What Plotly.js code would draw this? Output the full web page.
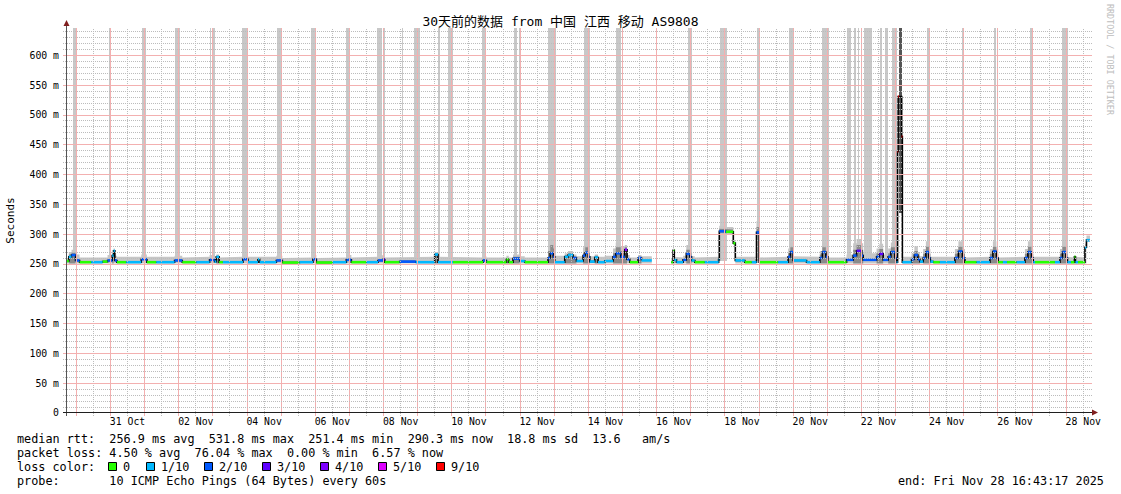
<!DOCTYPE html>
<html><head><meta charset="utf-8">
<script src="https://cdn.plot.ly/plotly-3.0.1.min.js"></script>
<style>html,body{margin:0;padding:0;background:#fff}#chart{width:1121px;height:494px}</style>
</head><body><div id="chart"></div>
<script>
// ---- data (median RTT in ms, loss out of 10 pings) ----
const sampleTime = [
'2025-10-29 16:43','2025-10-29 18:43','2025-10-29 20:37','2025-10-29 23:26','2025-10-30 02:15','2025-10-30 10:29','2025-10-30 18:26','2025-10-30 21:57',
'2025-10-31 01:15','2025-10-31 02:10','2025-10-31 03:05','2025-10-31 04:29','2025-10-31 11:06','2025-10-31 21:39','2025-11-01 01:35','2025-11-01 08:12',
'2025-11-01 21:04','2025-11-02 02:29','2025-11-02 12:20','2025-11-02 21:41','2025-11-03 01:13','2025-11-03 02:24','2025-11-03 04:23','2025-11-03 07:03',
'2025-11-03 21:07','2025-11-04 00:38','2025-11-04 07:40','2025-11-04 08:52','2025-11-04 20:37','2025-11-05 00:50','2025-11-05 13:00','2025-11-05 22:21',
'2025-11-06 00:45','2025-11-06 12:25','2025-11-06 21:51','2025-11-07 01:22','2025-11-07 11:55','2025-11-07 20:05','2025-11-07 23:44','2025-11-08 00:47',
'2025-11-08 11:20','2025-11-08 22:36','2025-11-09 11:58','2025-11-09 14:17','2025-11-10 00:50','2025-11-10 21:56','2025-11-11 00:19','2025-11-11 14:23',
'2025-11-11 16:00','2025-11-11 19:02','2025-11-11 23:44','2025-11-12 03:16','2025-11-12 19:39','2025-11-12 21:12','2025-11-12 23:19','2025-11-13 00:22',
'2025-11-13 07:24','2025-11-13 09:43','2025-11-13 13:14','2025-11-13 15:38','2025-11-13 20:17','2025-11-13 21:49','2025-11-13 23:56','2025-11-14 00:59',
'2025-11-14 04:30','2025-11-14 06:49','2025-11-14 11:32','2025-11-14 17:22','2025-11-14 19:16','2025-11-14 22:47','2025-11-15 01:36','2025-11-15 03:13',
'2025-11-15 05:07','2025-11-15 10:58','2025-11-15 13:21','2025-11-15 20:36','2025-11-16 10:19','2025-11-16 11:35','2025-11-16 12:25','2025-11-16 13:58',
'2025-11-16 18:37','2025-11-16 20:52','2025-11-16 23:19','2025-11-17 00:31','2025-11-17 02:50','2025-11-17 09:52','2025-11-17 19:35','2025-11-17 20:04',
'2025-11-18 00:38','2025-11-18 05:55','2025-11-18 07:20','2025-11-18 14:00','2025-11-18 18:56','2025-11-18 22:14','2025-11-19 00:04','2025-11-19 13:26',
'2025-11-19 20:28','2025-11-19 22:01','2025-11-20 00:00','2025-11-20 09:25','2025-11-20 18:46','2025-11-20 20:32','2025-11-20 22:59','2025-11-21 00:24',
'2025-11-21 13:33','2025-11-21 18:12','2025-11-21 20:35','2025-11-22 00:07','2025-11-22 01:14','2025-11-22 10:39','2025-11-22 12:37','2025-11-22 15:17',
'2025-11-22 18:49','2025-11-22 20:43','2025-11-22 23:31','2025-11-23 00:43','2025-11-23 01:25','2025-11-23 01:50','2025-11-23 02:20','2025-11-23 04:18',
'2025-11-23 04:47','2025-11-23 11:16','2025-11-23 13:14','2025-11-23 15:42','2025-11-23 17:07','2025-11-23 19:26','2025-11-23 21:20','2025-11-23 23:26',
'2025-11-24 00:30','2025-11-24 02:28','2025-11-24 07:11','2025-11-24 17:44','2025-11-24 20:11','2025-11-24 23:00','2025-11-25 00:46','2025-11-25 08:59',
'2025-11-25 18:20','2025-11-25 20:27','2025-11-25 22:55','2025-11-26 00:11','2025-11-26 03:29','2025-11-26 06:18','2025-11-26 13:07','2025-11-26 18:58',
'2025-11-26 21:04','2025-11-26 23:32','2025-11-27 00:48','2025-11-27 02:00','2025-11-27 16:04','2025-11-27 19:35','2025-11-27 21:20','2025-11-27 23:48',
'2025-11-28 00:52','2025-11-28 03:19','2025-11-28 05:47','2025-11-28 06:29','2025-11-28 08:15','2025-11-28 13:10','2025-11-28 14:14','2025-11-28 16:43'];

const medianMs = [
255,262,265,256,253,253,254,256,
264,272,256,253,253,258,253,253,
256,253,253,257,254,262,253,253,
258,253,258,253,256,252.5,253,258,
252.5,253,257,253,253,256,258,253,
254,253,266,253,253,256,253,258,
253,259,255,253,260,268,262,253,
262,265,260,255,264,269,262,254,
261,253,255,262,268,262,274,258,
253,260,256,null,253,273,257,253,
257,267,262,256,253,253,257,305,
304,285,256,253,253,303,253,253,
262,270,256,253,260,270,262,253,
257,264,272,264,257,262,267,257,
262,270,260,253,439,531,531,464,
253,258,265,258,254,260,270,260,
254,253,253,260,271,260,253,253,
260,271,260,253,253,253,253,260,
270,260,253,253,253,260,270,260,
253,253,262,253,253,278,290,290];

const lossOfTen = [
0,1,2,2,0,1,0,2,
1,1,2,0,1,2,0,1,
2,0,1,2,1,1,0,1,
2,1,1,1,2,0,1,2,
0,1,2,0,1,2,3,0,
2,1,1,1,0,2,0,0,
0,2,1,0,2,2,2,1,
1,1,2,1,2,2,2,1,
1,1,1,2,2,2,4,2,
0,2,1,null,0,0,1,1,
2,2,2,1,0,1,1,2,
0,0,1,0,1,2,0,1,
2,2,1,1,2,2,2,0,
2,2,3,2,2,2,3,2,
2,2,2,1,9,9,null,9,
1,2,2,2,1,2,2,2,
1,0,1,2,2,2,0,1,
2,2,2,0,1,0,1,2,
2,2,1,0,1,2,2,2,
1,0,0,1,0,1,1,1];

const smokeTopMs = [
260,270,274,266,261,262,261,265,
268,276,264,262,262,266,262,262,
264,261,262,265,262,266,261,262,
266,262,263,262,264,260,261,265,
260,261,265,261,262,264,265,261,
262,262,270,262,261,263,261,264,
261,266,263,261,280,292,285,264,
268,272,266,263,278,286,278,263,
266,262,264,276,286,280,282,265,
261,265,263,null,260,276,262,261,
264,282,275,263,261,262,262,314,
312,290,262,261,262,322,261,262,
276,286,263,262,272,286,276,261,
266,285,292,285,268,276,284,266,
276,286,275,262,null,null,null,null,
262,268,280,270,263,275,288,275,
262,261,262,275,288,275,261,262,
275,288,275,261,262,261,262,275,
288,275,262,261,262,275,288,275,
262,261,265,262,261,284,298,298];

const smokeDarkMs = [
null,266,269,null,null,null,null,null,
266,null,null,null,null,null,null,null,
null,null,null,null,null,264,null,null,
null,null,null,null,null,null,null,null,
null,null,null,null,null,null,null,null,
null,null,268,null,null,null,null,260,
null,262,null,null,272,282,276,null,
265,268,263,null,270,278,270,null,
264,null,null,268,278,272,278,null,
null,262,null,null,null,274,null,null,
null,274,268,null,null,null,null,309,
308,null,null,null,null,312,null,null,
268,278,null,null,266,278,268,null,
null,274,282,274,null,268,275,null,
268,278,266,null,null,null,null,null,
null,262,272,264,null,267,279,267,
null,null,null,267,279,267,null,null,
267,279,267,null,null,null,null,267,
279,267,null,null,null,267,279,267,
null,null,263,null,null,null,null,null];

const smokeFloorMs = 251;

// periods where single pings went off the top of the graph
const spikeStart = [
'2025-10-29 21:20','2025-10-30 22:40','2025-10-31 21:25','2025-10-31 22:05','2025-11-01 21:04','2025-11-02 22:00','2025-11-02 23:07',
'2025-11-03 20:41','2025-11-04 20:50','2025-11-05 21:14','2025-11-06 21:50','2025-11-07 19:22','2025-11-07 23:35','2025-11-08 13:15',
'2025-11-08 15:00','2025-11-08 21:11','2025-11-09 14:34','2025-11-09 21:06','2025-11-10 21:30','2025-11-11 20:01','2025-11-11 23:15',
'2025-11-12 19:56','2025-11-13 20:46','2025-11-14 19:45','2025-11-16 22:07','2025-11-17 20:25','2025-11-18 22:15','2025-11-19 21:10',
'2025-11-20 20:11','2025-11-21 13:58','2025-11-21 18:40','2025-11-21 21:40','2025-11-21 23:22','2025-11-22 01:42','2025-11-22 12:58',
'2025-11-22 16:29','2025-11-22 21:12','2025-11-23 22:15','2025-11-24 22:39','2025-11-25 21:09','2025-11-26 22:29','2025-11-27 20:58'];
const spikeEnd = [
'2025-10-30 00:20','2025-10-31 00:30','2025-10-31 21:45','2025-11-01 00:40','2025-11-02 00:35','2025-11-02 22:20','2025-11-03 01:12',
'2025-11-04 00:55','2025-11-05 00:50','2025-11-06 00:45','2025-11-07 00:40','2025-11-07 22:40','2025-11-08 01:16','2025-11-08 13:40',
'2025-11-08 15:20','2025-11-09 01:25','2025-11-09 15:29','2025-11-10 00:50','2025-11-11 00:03','2025-11-11 22:08','2025-11-12 00:56',
'2025-11-13 01:05','2025-11-14 00:59','2025-11-14 23:00','2025-11-17 00:32','2025-11-18 01:08','2025-11-19 00:33','2025-11-19 23:58',
'2025-11-21 00:53','2025-11-21 16:35','2025-11-21 20:05','2025-11-21 22:00','2025-11-21 23:42','2025-11-22 07:20','2025-11-22 14:10',
'2025-11-22 18:49','2025-11-23 00:43','2025-11-24 00:09','2025-11-25 00:04','2025-11-25 22:33','2025-11-27 00:48','2025-11-28 01:12'];
const denseSpikeStart = ['2025-11-23 02:20'];
const denseSpikeEnd = ['2025-11-23 04:26'];
const denseSpikeFloorMs = [335];

const graphStart = '2025-10-29 16:43:17';
const graphEnd = '2025-11-28 16:43:17';

const xTickDates = ['2025-10-31 12:00','2025-11-02 12:00','2025-11-04 12:00','2025-11-06 12:00','2025-11-08 12:00','2025-11-10 12:00','2025-11-12 12:00',
'2025-11-14 12:00','2025-11-16 12:00','2025-11-18 12:00','2025-11-20 12:00','2025-11-22 12:00','2025-11-24 12:00','2025-11-26 12:00','2025-11-28 12:00'];
const xTickLabels = ['31 Oct','02 Nov','04 Nov','06 Nov','08 Nov','10 Nov','12 Nov','14 Nov','16 Nov','18 Nov','20 Nov','22 Nov','24 Nov','26 Nov','28 Nov'];
const yTickVals = [0,50,100,150,200,250,300,350,400,450,500,550,600];
const yTickLabels = ['0','50 m','100 m','150 m','200 m','250 m','300 m','350 m','400 m','450 m','500 m','550 m','600 m'];

const lossLevels = [0,1,2,3,4,5,9];
const lossLabels = ['0','1/10','2/10','3/10','4/10','5/10','9/10'];
const lossColors = ['#26ff00','#00b8ff','#0059ff','#5e00ff','#7e00ff','#dd00ff','#ff0000'];

const rttStats = ['256.9 ms avg','531.8 ms max','251.4 ms min','290.3 ms now','18.8 ms sd','13.6   am/s'];
const lossStats = ['4.50 % avg','76.04 % max','0.00 % min','6.57 % now'];
const probeText = '10 ICMP Echo Pings (64 Bytes) every 60s';
const endText = 'end: Fri Nov 28 16:43:17 2025';
const titleText = '30天前的数据 from 中国 江西 移动 AS9808';

// ---- drawing ----
const ms = s => Date.parse(s.replace(' ', 'T') + (s.length === 16 ? ':00Z' : 'Z'));
const T = sampleTime.map(ms);
const nSeg = T.length - 1;
const yTop = 646;
const smokeBottom = i => (medianMs[i] != null && medianMs[i] > 280) ? medianMs[i] - 3 : smokeFloorMs;

function stepPolygon(top) {
  const xs = [], ys = [];
  let i = 0;
  while (i < nSeg) {
    if (top[i] == null) { i++; continue; }
    let j = i;
    while (j < nSeg && top[j] != null) { xs.push(T[j], T[j + 1]); ys.push(top[j], top[j]); j++; }
    for (let k = j - 1; k >= i; k--) { xs.push(T[k + 1], T[k]); ys.push(smokeBottom(k), smokeBottom(k)); }
    xs.push(null); ys.push(null);
    i = j;
  }
  return {xs, ys};
}

const traces = [];
const sS = spikeStart.map(ms), sE = spikeEnd.map(ms);
traces.push({type:'bar', x:sS.map((s,i)=>(s+sE[i])/2), width:sS.map((s,i)=>sE[i]-s),
  base:smokeFloorMs+4, y:sS.map(()=>yTop-smokeFloorMs-4), marker:{color:'#c8c8c8', line:{width:0}}, hoverinfo:'skip'});
const light = stepPolygon(smokeTopMs);
traces.push({type:'scatter', mode:'lines', x:light.xs, y:light.ys, fill:'toself', fillcolor:'#c6c6c6', line:{width:0}, hoverinfo:'skip'});
const dark = stepPolygon(smokeDarkMs);
traces.push({type:'scatter', mode:'lines', x:dark.xs, y:dark.ys, fill:'toself', fillcolor:'#8a8a8a', line:{width:0}, hoverinfo:'skip'});
const dS = denseSpikeStart.map(ms), dE = denseSpikeEnd.map(ms);
traces.push({type:'bar', x:dS.map((s,i)=>(s+dE[i])/2), width:dS.map((s,i)=>dE[i]-s),
  base:denseSpikeFloorMs, y:denseSpikeFloorMs.map(f=>yTop-f), marker:{color:'#555555', line:{width:0}}, hoverinfo:'skip'});
traces.push({type:'scatter', mode:'lines', x:T, y:medianMs, line:{color:'#000', width:1.6, shape:'hv'}, connectgaps:false, hoverinfo:'skip'});
lossLevels.forEach((lv, k) => {
  const xs = [], ys = [];
  for (let i = 0; i < nSeg; i++) {
    if (medianMs[i] == null || lossOfTen[i] !== lv) continue;
    xs.push(T[i], T[i + 1], null); ys.push(medianMs[i], medianMs[i], null);
  }
  traces.push({type:'scatter', mode:'lines', x:xs, y:ys, line:{color:lossColors[k], width:2.6}, connectgaps:false, hoverinfo:'skip'});
});

// geometry helpers (plot area: x 66..1090, y 28..413)
const L = 66, R = 31, TOPM = 28, B = 81, W = 1121 - L - R, H = 494 - TOPM - B;
const px = x => (x - L) / W, py = y => (413 - y) / H;
const startMs = ms(graphStart), endMs = ms(graphEnd);
const snapX = t => (Math.floor((t - startMs) / (endMs - startMs) * W) + 0.5) / W;
const snapY = v => 1 - (Math.floor((1 - v / yTop) * H) + 0.5) / H;

const shapes = [];
const majorLine = {color:'#f3b0b0', width:1};
const minorLine = {color:'#bcbcbc', width:1, dash:'1px,1px'};
for (let d = Date.UTC(2025, 9, 30); d <= endMs; d += 86400000) {
  const xr = snapX(d);
  shapes.push({type:'line', xref:'paper', yref:'paper', x0:xr, x1:xr, y0:-3/H, y1:1, layer:'above', line:majorLine});
  const n = d + 43200000;
  if (n < endMs) {
    const xg = snapX(n);
    shapes.push({type:'line', xref:'paper', yref:'paper', x0:xg, x1:xg, y0:-3/H, y1:1, layer:'above', line:minorLine});
  }
}
for (let v = 10; v < yTop; v += 10) {
  const major = v % 50 === 0, yv = snapY(v);
  shapes.push({type:'line', xref:'paper', yref:'paper', x0:-3/W, x1:1+2/W, y0:yv, y1:yv, layer:'above',
    line: major ? majorLine : minorLine});
}
shapes.push({type:'line', xref:'paper', yref:'paper', x0:px(66.5), x1:px(66.5), y0:py(416), y1:py(24), layer:'above', line:{color:'#555', width:1}});
shapes.push({type:'line', xref:'paper', yref:'paper', x0:px(63), x1:px(1094), y0:py(412.5), y1:py(412.5), layer:'above', line:{color:'#1f1f1f', width:1}});
shapes.push({type:'path', xref:'paper', yref:'paper', layer:'above', fillcolor:'#801f1f', line:{width:0},
  path:`M ${px(66.5)} ${py(20)} L ${px(63.5)} ${py(26)} L ${px(69.5)} ${py(26)} Z`});
shapes.push({type:'path', xref:'paper', yref:'paper', layer:'above', fillcolor:'#801f1f', line:{width:0},
  path:`M ${px(1098)} ${py(412.5)} L ${px(1092)} ${py(409.5)} L ${px(1092)} ${py(415.5)} Z`});

const nb = s => s.replace(/ /g, '\u00a0');
const mono = 'DejaVu Sans Mono, monospace';
const lf = {family: mono, size: 11.8, color: '#000'};
const annotations = [];
const addText = (x, y, text, anchor, font) => annotations.push({xref:'paper', yref:'paper', x:px(x), y:py(y), text:nb(text),
  showarrow:false, xanchor:anchor || 'left', yanchor:'middle', font: font || lf});
addText(14.5, 439, 'median rtt:  ' + rttStats.join('  '));
addText(14.5, 453, 'packet loss: ' + lossStats.join('  '));
addText(14.5, 467, 'loss color:');
const sqX = [108, 146, 204, 262, 320, 378, 436];
lossLabels.forEach((lab, k) => {
  shapes.push({type:'rect', xref:'paper', yref:'paper', x0:px(sqX[k] + 0.5), x1:px(sqX[k] + 8.5), y0:py(470.5), y1:py(462.5), layer:'above',
    fillcolor:lossColors[k], line:{color:'#000', width:1}});
  addText(sqX[k] + 13, 467, lab);
});
addText(14.5, 481, 'probe:       ' + probeText);
addText(1106, 481, endText, 'right');
annotations.push({xref:'paper', yref:'paper', x:px(1110), y:py(60), text:'RRDTOOL / TOBI OETIKER', textangle:90, showarrow:false,
  xanchor:'center', yanchor:'middle', font:{family:mono, size:8.4, color:'#bdbdbd'}});

const layout = {
  width:1121, height:494, margin:{l:L, r:R, t:TOPM, b:B, pad:0},
  paper_bgcolor:'#fff', plot_bgcolor:'#fff', showlegend:false, hovermode:false, bargap:0,
  title:{text:titleText, x:0.5, xref:'container', y:1-21/494, yref:'container', yanchor:'middle', xanchor:'center',
    font:{family:'DejaVu Sans Mono, Noto Sans CJK SC', size:13, color:'#000'}},
  xaxis:{type:'date', range:[startMs, endMs], tickmode:'array', tickvals:xTickDates.map(ms), ticktext:xTickLabels,
    showgrid:false, zeroline:false, showline:false, ticks:'', ticklabelstandoff:1, tickfont:{family:mono, size:9.8, color:'#000'}, fixedrange:true},
  yaxis:{range:[0, yTop], tickmode:'array', tickvals:yTickVals, ticktext:yTickLabels, showgrid:false, zeroline:false, showline:false,
    ticks:'', ticklabelstandoff:6, tickfont:{family:mono, size:9.8, color:'#000'}, fixedrange:true,
    title:{text:'Seconds', standoff:12, font:{family:mono, size:11, color:'#000'}}},
  shapes, annotations
};
Plotly.newPlot('chart', traces, layout, {staticPlot:true, displayModeBar:false});
</script></body></html>
